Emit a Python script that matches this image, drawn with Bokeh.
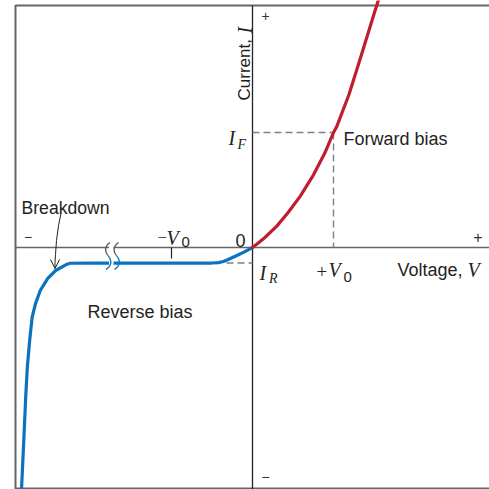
from bokeh.plotting import figure
from bokeh.models import Range1d, Label, Arrow, OpenHead
from bokeh.embed import file_html
from bokeh.resources import INLINE

# ---- data (units: V0 = 1 on voltage axis, I_F = 1 on current axis) ----
V0 = 1.0
I_F = 1.0
I_R = -0.135
forward_v = [0.0, 0.075, 0.15, 0.3, 0.44, 0.59, 0.74, 0.89, 1.0, 1.04, 1.19, 1.33, 1.48, 1.56]
forward_i = [0.0, 0.041, 0.085, 0.186, 0.304, 0.447, 0.616, 0.817, 1.0, 1.051, 1.328, 1.641, 1.985, 2.165]
reverse_v = [0.0, -0.1, -0.2, -0.3, -0.36, -0.42, -0.5, -1.0, -1.5, -2.0, -2.25, -2.3, -2.43, -2.53,
             -2.62, -2.68, -2.72, -2.75, -2.78, -2.80, -2.82, -2.85, -2.87]
reverse_i = [0.0, -0.038, -0.072, -0.104, -0.122, -0.132, -0.135, -0.135, -0.135, -0.135, -0.137, -0.148,
             -0.2, -0.27, -0.374, -0.49, -0.606, -0.8, -1.04, -1.3, -1.62, -2.08, -2.25]

# reference-pixel -> data helpers (for annotation placement)
def vx(px):
    return (px - 252) / 81.0

def iy(py):
    return (247 - py) / 115.0

W = 489
X0, X1 = vx(0), vx(W)
Y0, Y1 = iy(W), iy(0)

RED = "#BF1E2E"
BLUE = "#0A72BF"
GRAY = "#666666"
DASH = "#808080"
TXT = "#231F20"
SANS = "Liberation Sans"
SERIF = "Liberation Serif"

p = figure(width=W, height=W, x_range=Range1d(X0, X1), y_range=Range1d(Y0, Y1),
           output_backend="svg", toolbar_location=None, x_axis_type=None, y_axis_type=None,
           min_border=0, min_border_left=0, min_border_right=0, min_border_top=0, min_border_bottom=0)
p.grid.visible = False
p.outline_line_color = None
p.background_fill_color = "white"

# frame (left, top, bottom)
p.segment(x0=[vx(15), vx(15), vx(15)], y0=[iy(4.5), iy(5), iy(488)],
          x1=[vx(15), X1, X1], y1=[iy(489), iy(5), iy(488)],
          line_color=GRAY, line_width=2)

# axes
p.segment(x0=[vx(15)], y0=[0], x1=[X1], y1=[0], line_color=GRAY, line_width=1.6)
p.segment(x0=[0], y0=[Y0], x1=[0], y1=[iy(5)], line_color="#222222", line_width=1.3)

# dashed guides
p.segment(x0=[0, V0], y0=[I_F, I_F], x1=[V0, V0], y1=[I_F, 0], line_color=DASH,
          line_width=1.4, line_dash="7 4")
p.segment(x0=[vx(226)], y0=[I_R], x1=[0], y1=[I_R], line_color=DASH, line_width=1.4, line_dash="7 4")

# tick at -V0
p.segment(x0=[-V0], y0=[0], x1=[-V0], y1=[iy(258)], line_color="#222222", line_width=1.2)

# curves
p.line(reverse_v, reverse_i, line_color=BLUE, line_width=3.2, line_cap="round", line_join="round")
p.line(forward_v, forward_i, line_color=RED, line_width=3.2, line_cap="round", line_join="round")

# break symbol (two wavy strokes with a gap between)
p.quad(left=[vx(108.5)], right=[vx(113)], bottom=[iy(266)], top=[iy(243)],
       fill_color="white", line_color=None)
s_dx = [3, 0.5, -1.5, -1, 1, 3, 4, 2.5, -1]
s_dy = [-13, -11, -7, -3, 0, 3, 7, 11, 14]
for cx in (106.5, 115.0):
    xs = [vx(cx + d) for d in s_dx]
    ys = [iy(255 + d) for d in s_dy]
    p.line(xs[:5], ys[:5], line_color="#555555", line_width=1.3)
    p.line(xs[4:], ys[4:], line_color=BLUE, line_width=1.3)

# Breakdown arrow
arr_x = [vx(60.5), vx(58), vx(56), vx(55), vx(54.5)]
arr_y = [iy(213), iy(225), iy(240), iy(254), iy(262)]
p.line(arr_x, arr_y, line_color="#222222", line_width=1)
p.add_layout(Arrow(end=OpenHead(size=9, line_color="#222222", line_width=1),
                   x_start=vx(54.5), y_start=iy(262), x_end=vx(54.5), y_end=iy(268),
                   line_color="#222222", line_width=1))

def lab(x, y, t, font=SANS, size="18px", style="normal", align="left", base="alphabetic", angle=0.0, color=TXT):
    p.add_layout(Label(x=x, y=y, text=t, text_font=font, text_font_size=size, text_font_style=style,
                       text_align=align, text_baseline=base, angle=angle, text_color=color))

lab(vx(21), iy(207.5), "Breakdown", size="17.6px")
lab(vx(343), iy(138.5), "Forward bias")
lab(vx(87), iy(311), "Reverse bias")
lab(vx(397), iy(269.5), "Voltage,")
lab(vx(467), iy(269.5), "V", font=SERIF, size="20px", style="italic")
lab(vx(244), iy(100), "Current,", size="17px", angle=1.5708)
lab(vx(244), iy(33), "I", font=SERIF, size="20px", style="italic", angle=1.5708)
# I_F
lab(vx(228), iy(137.5), "I", font=SERIF, size="20px", style="italic")
lab(vx(237), iy(143.5), "F", font=SERIF, size="14px", style="italic")
# -V0
lab(vx(157), iy(237), "\u2212", font=SERIF, size="17px")
lab(vx(166), iy(237.5), "V", font=SERIF, size="20px", style="italic")
lab(vx(181), iy(241.5), "0", size="15px")
# 0
lab(vx(235), iy(240), "0")
# I_R
lab(vx(259), iy(272), "I", font=SERIF, size="20px", style="italic")
lab(vx(268.5), iy(277.5), "R", font=SERIF, size="14px", style="italic")
# +V0
lab(vx(316), iy(271), "+", font=SERIF, size="19px")
lab(vx(328), iy(269.5), "V", font=SERIF, size="20px", style="italic")
lab(vx(343), iy(276), "0", size="15px")
# signs
lab(vx(265), iy(15), "+", size="14px", align="center", base="middle", color="#333333")
lab(vx(265), iy(476), "\u2212", size="14px", align="center", base="middle", color="#333333")
lab(vx(27.5), iy(236), "\u2212", size="14px", align="center", base="middle", color="#333333")
lab(vx(477.5), iy(236), "+", size="16px", align="center", base="middle", color="#333333")

open("out.html", "w").write(file_html(p, INLINE))
